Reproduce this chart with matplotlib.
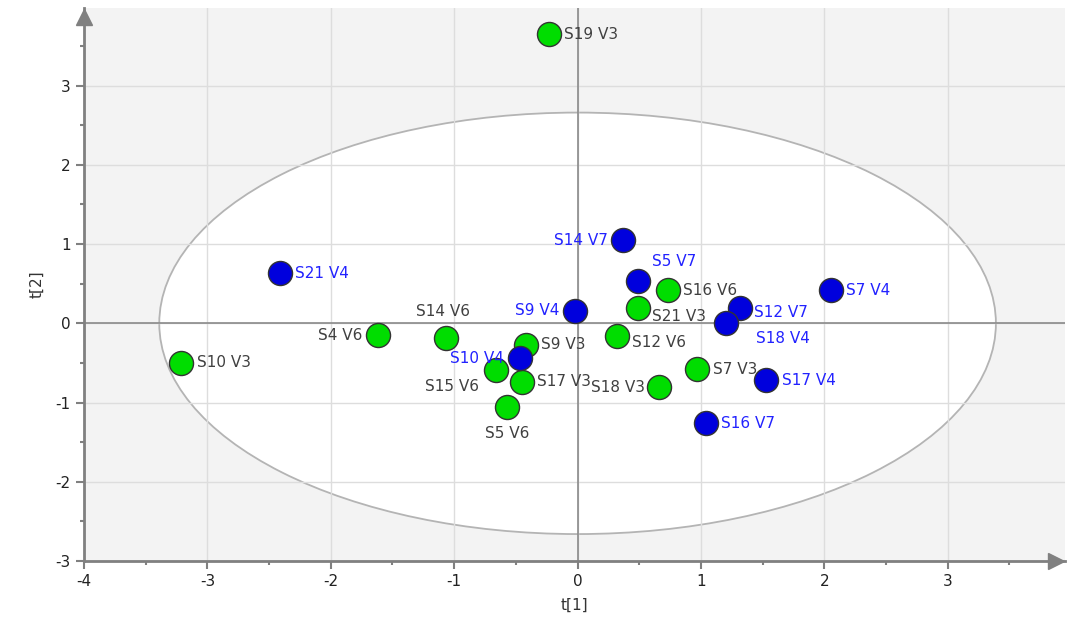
import matplotlib.pyplot as plt
from matplotlib.patches import Ellipse
from matplotlib.ticker import MultipleLocator

plt.rcParams["axes.unicode_minus"] = False

# score values
green_names = ["S19 V3", "S4 V6", "S14 V6", "S10 V3", "S9 V3", "S15 V6", "S17 V3",
               "S5 V6", "S12 V6", "S21 V3", "S16 V6", "S7 V3", "S18 V3"]
green_t1 = [-0.23, -1.62, -1.07, -3.21, -0.42, -0.66, -0.45, -0.57, 0.32, 0.49, 0.73, 0.97, 0.66]
green_t2 = [3.65, -0.15, -0.19, -0.50, -0.27, -0.59, -0.74, -1.05, -0.16, 0.19, 0.42, -0.58, -0.81]

blue_names = ["S21 V4", "S9 V4", "S10 V4", "S14 V7", "S5 V7", "S12 V7", "S18 V4",
              "S7 V4", "S17 V4", "S16 V7"]
blue_t1 = [-2.41, -0.02, -0.47, 0.37, 0.49, 1.32, 1.20, 2.05, 1.53, 1.04]
blue_t2 = [0.63, 0.16, -0.44, 1.05, 0.54, 0.19, 0.00, 0.42, -0.72, -1.26]

# label offsets (points, ha, va)
offsets = {
    "S4 V6": (-11, 0, "right", "center"),
    "S14 V6": (-2, 14, "center", "bottom"),
    "S15 V6": (-12, -12, "right", "center"),
    "S5 V6": (0, -14, "center", "top"),
    "S18 V3": (-10, 0, "right", "center"),
    "S21 V3": (10, -6, "left", "center"),
    "S12 V6": (11, -5, "left", "center"),
    "S9 V4": (-11, 0, "right", "center"),
    "S10 V4": (-11, 0, "right", "center"),
    "S14 V7": (-11, 0, "right", "center"),
    "S5 V7": (10, 14, "left", "center"),
    "S12 V7": (10, -3, "left", "center"),
    "S18 V4": (22, -11, "left", "center"),
}

fig = plt.figure(figsize=(10.67, 6.33), dpi=100)
ax = fig.add_axes([84 / 1067, 72 / 633, 981 / 1067, 553 / 633])
ax.set_xlim(-4, 3.95)
ax.set_ylim(-3, 3.98)
ax.set_facecolor("#f3f3f3")

ell = Ellipse((0, 0), width=2 * 3.39, height=2 * 2.66, facecolor="white",
              edgecolor="#b4b4b4", lw=1.3, zorder=0.3)
ax.add_patch(ell)

ax.set_axisbelow(True)
ax.grid(True, color="#dddddd", lw=1)
ax.axhline(0, color="#8a8a8a", lw=1.2, zorder=1)
ax.axvline(0, color="#8a8a8a", lw=1.2, zorder=1)

for s in ["top", "right"]:
    ax.spines[s].set_visible(False)
for s in ["left", "bottom"]:
    ax.spines[s].set_color("#808080")
    ax.spines[s].set_linewidth(2)

ax.xaxis.set_major_locator(MultipleLocator(1))
ax.yaxis.set_major_locator(MultipleLocator(1))
ax.xaxis.set_minor_locator(MultipleLocator(0.5))
ax.yaxis.set_minor_locator(MultipleLocator(0.5))
ax.tick_params(which="major", length=6, width=1.5, color="#808080", labelsize=11, labelcolor="#222222")
ax.tick_params(which="minor", length=3, width=1.5, color="#808080")

# arrow heads at the axis ends, tips on the axes edge
ax.plot(1 - 0.009, 0, ">", color="#808080", ms=12, transform=ax.transAxes, clip_on=False)
ax.plot(0, 1 - 0.016, "^", color="#808080", ms=12, transform=ax.transAxes, clip_on=False)

ax.scatter(green_t1, green_t2, s=300, c="#00dd00", edgecolors="#333333", lw=1, zorder=3)
ax.scatter(blue_t1, blue_t2, s=300, c="#0000dd", edgecolors="#333333", lw=1, zorder=3)

def put_labels(names, xs, ys, color):
    for n, x, y in zip(names, xs, ys):
        dx, dy, ha, va = offsets.get(n, (11, 0, "left", "center"))
        ax.annotate(n, (x, y), xytext=(dx, dy), textcoords="offset points",
                    ha=ha, va=va, fontsize=11, color=color, zorder=4)

put_labels(green_names, green_t1, green_t2, "#404040")
put_labels(blue_names, blue_t1, blue_t2, "#2222ff")

ax.set_xlabel("t[1]", fontsize=11, color="#333333", labelpad=6)
ax.set_ylabel("t[2]", fontsize=11, color="#333333", labelpad=8)

fig.savefig("out.png", dpi=100)
